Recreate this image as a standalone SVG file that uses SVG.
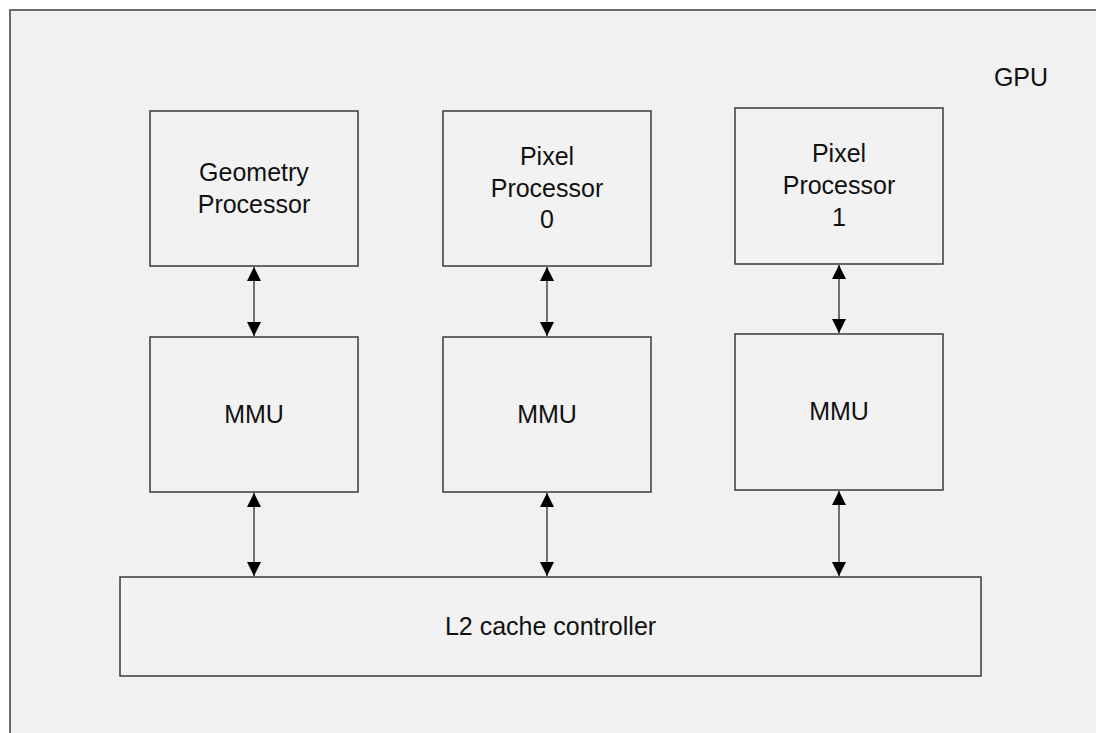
<svg xmlns="http://www.w3.org/2000/svg" width="1096" height="733" viewBox="0 0 1096 733">
<style>
.box{fill:#f2f2f2;stroke:#3a3a3a;stroke-width:1.5}
.lbl{font-family:"Liberation Sans",Arial,sans-serif;font-size:25px;fill:#111;text-anchor:middle}
.conn{stroke:#444;stroke-width:1.5;fill:none;marker-start:url(#ah);marker-end:url(#ah)}
</style>
<defs>
<marker id="ah" viewBox="0 0 14 14" refX="14" refY="7" markerWidth="14" markerHeight="14" markerUnits="userSpaceOnUse" orient="auto-start-reverse">
<path d="M0,0 L14,7 L0,14 Z" fill="#000"/>
</marker>
</defs>
<rect x="0" y="0" width="1096" height="733" fill="#ffffff"/>
<g id="gpu">
<rect x="10" y="10" width="1100" height="740" fill="#f1f1f1" stroke="#6a6a6a" stroke-width="2"/>
<text class="lbl" x="1021" y="86">GPU</text>
</g>
<g id="geometry">
<rect class="box" x="150" y="111" width="208" height="155"/>
<text class="lbl" x="254" y="181">Geometry</text>
<text class="lbl" x="254" y="212.5">Processor</text>
</g>
<g id="pixel0">
<rect class="box" x="443" y="111" width="208" height="155"/>
<text class="lbl" x="547" y="165">Pixel</text>
<text class="lbl" x="547" y="196.5">Processor</text>
<text class="lbl" x="547" y="228">0</text>
</g>
<g id="pixel1">
<rect class="box" x="735" y="108" width="208" height="156"/>
<text class="lbl" x="839" y="162">Pixel</text>
<text class="lbl" x="839" y="193.5">Processor</text>
<text class="lbl" x="839" y="225.5">1</text>
</g>
<g id="mmu0">
<rect class="box" x="150" y="337" width="208" height="155"/>
<text class="lbl" x="254" y="423">MMU</text>
</g>
<g id="mmu1">
<rect class="box" x="443" y="337" width="208" height="155"/>
<text class="lbl" x="547" y="423">MMU</text>
</g>
<g id="mmu2">
<rect class="box" x="735" y="334" width="208" height="156"/>
<text class="lbl" x="839" y="420">MMU</text>
</g>
<g id="l2">
<rect class="box" x="120" y="577" width="861" height="99"/>
<text class="lbl" x="550.5" y="634.5">L2 cache controller</text>
</g>
<g id="connectors">
<line class="conn" x1="254" y1="267" x2="254" y2="336"/>
<line class="conn" x1="547" y1="267" x2="547" y2="336"/>
<line class="conn" x1="839" y1="265" x2="839" y2="333"/>
<line class="conn" x1="254" y1="493" x2="254" y2="576"/>
<line class="conn" x1="547" y1="493" x2="547" y2="576"/>
<line class="conn" x1="839" y1="491" x2="839" y2="576"/>
</g>
</svg>
